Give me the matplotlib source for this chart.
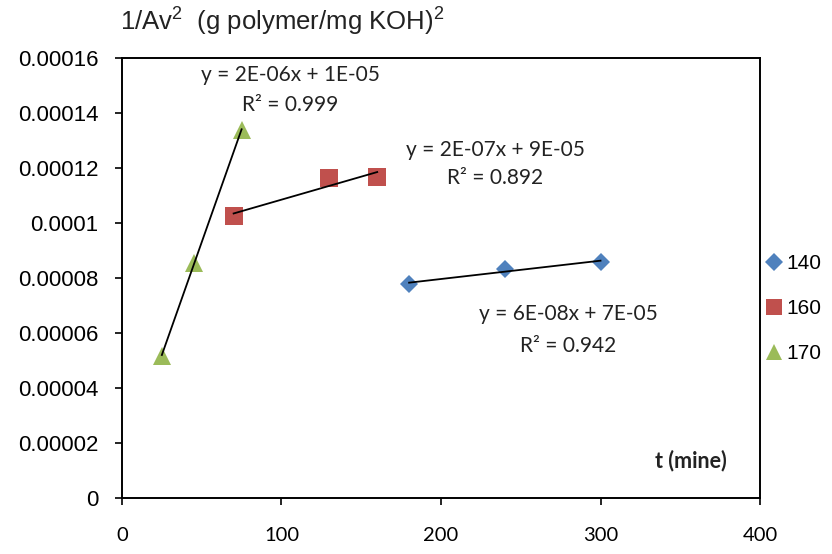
import numpy as np
import matplotlib
matplotlib.use("Agg")
import matplotlib.pyplot as plt

plt.rcParams["mathtext.fontset"] = "custom"
plt.rcParams["mathtext.rm"] = "Liberation Sans"
plt.rcParams["mathtext.it"] = "Liberation Sans:italic"
plt.rcParams["mathtext.bf"] = "Liberation Sans:bold"

# Data
t_140 = [180, 240, 300]
v_140 = [7.78e-5, 8.33e-5, 8.58e-5]
t_160 = [70, 130, 160]
v_160 = [1.025e-4, 1.164e-4, 1.166e-4]
t_170 = [25, 45, 75]
v_170 = [5.16e-5, 8.55e-5, 1.338e-4]

series_labels = ["140", "160", "170"]
eq_140 = ["y = 6E-08x + 7E-05", "R² = 0.942"]
eq_160 = ["y = 2E-07x + 9E-05", "R² = 0.892"]
eq_170 = ["y = 2E-06x + 1E-05", "R² = 0.999"]

x_ticks = [0, 100, 200, 300, 400]
y_ticks = [0, 0.00002, 0.00004, 0.00006, 0.00008, 0.0001, 0.00012, 0.00014, 0.00016]
y_tick_labels = ["0", "0.00002", "0.00004", "0.00006", "0.00008", "0.0001",
                 "0.00012", "0.00014", "0.00016"]

colors = ["#4F81BD", "#C0504D", "#9BBB59"]
markers = ["D", "s", "^"]
msizes = [9.5, 13, 13]

fig = plt.figure(figsize=(8.32, 5.54), dpi=100)
ax = fig.add_axes([0.1466, 0.1011, 0.9135 - 0.1466, 0.8953 - 0.1011])

for (tx, vy), c, m, ms, lab in zip([(t_140, v_140), (t_160, v_160), (t_170, v_170)],
                                   colors, markers, msizes, series_labels):
    tx = np.array(tx, float); vy = np.array(vy, float)
    ax.plot(tx, vy, linestyle="none", marker=m, markersize=ms, color=c,
            markeredgewidth=0, label=lab, zorder=2)
    k, b = np.polyfit(tx, vy, 1)
    xs = np.array([tx.min(), tx.max()])
    ax.plot(xs, k * xs + b, color="black", linewidth=1.3, zorder=3)

eq_font = dict(family=["Lato", "DejaVu Sans"], fontsize=15, color="#222222")
for lines, (x0, y1, y2) in zip([eq_170, eq_160, eq_140],
                               [(105.3, 1.538e-4, 1.429e-4),
                                (233.9, 1.265e-4, 1.164e-4),
                                (279.6, 6.69e-5, 5.53e-5)]):
    ax.text(x0, y1, lines[0], ha="center", va="center", **eq_font)
    ax.text(x0, y2, lines[1], ha="center", va="center", **eq_font)

ax.set_xlim(0, 400)
ax.set_ylim(0, 0.00016)
ax.set_xticks(x_ticks)
ax.set_xticklabels([str(v) for v in x_ticks], family=["Lato", "DejaVu Sans"], fontsize=14.5)
ax.set_yticks(y_ticks)
ax.set_yticklabels(y_tick_labels, family=["Liberation Sans", "DejaVu Sans"], fontsize=16)
ax.tick_params(axis="both", direction="out", length=5, width=1.2, color="black")
ax.tick_params(axis="x", pad=16)
ax.tick_params(axis="y", pad=12)
for s in ax.spines.values():
    s.set_linewidth(1.4)
    s.set_color("black")

ax.text(0.948, 0.085, "t (mine)", transform=ax.transAxes, ha="right", va="center",
        family=["Lato", "DejaVu Sans"], fontweight="bold", fontsize=15.5, color="#222222")

fig.text(120 / 832, 1 - 22 / 554, r"1/Av$^2$  (g polymer/mg KOH)$^2$", ha="left", va="center",
         family=["Liberation Sans", "DejaVu Sans"], fontsize=18.5, color="#222222")

leg = ax.legend(loc="center left", bbox_to_anchor=(1.0078, 0.43), frameon=False,
                prop={"family": ["Liberation Sans", "DejaVu Sans"], "size": 15},
                handletextpad=0.12, labelspacing=1.25, handlelength=0.9,
                borderaxespad=0.0, borderpad=0.0)
for h, ms in zip(leg.legend_handles, [9, 11, 12]):
    h.set_markersize(ms)

fig.savefig("out.png", dpi=100)
